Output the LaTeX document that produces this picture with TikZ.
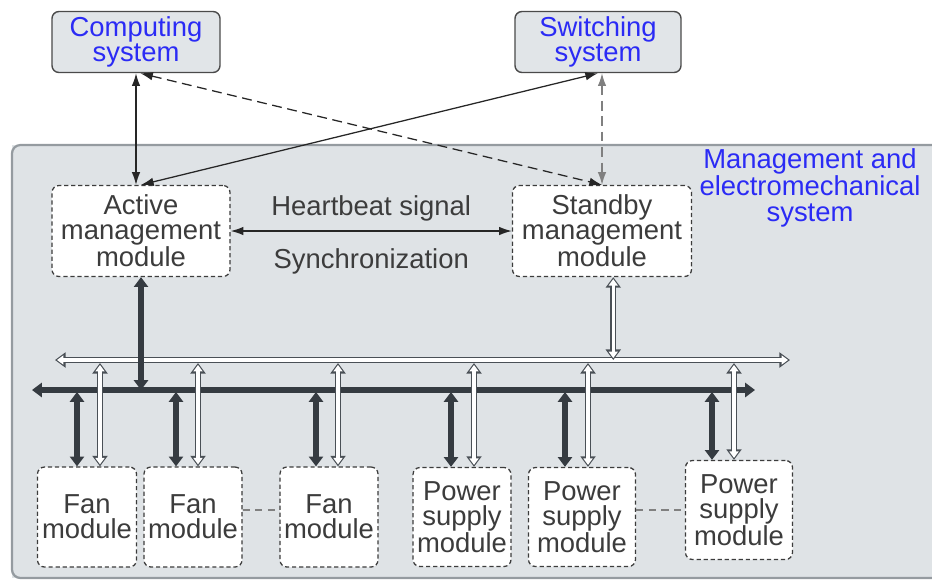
\documentclass[tikz,border=0pt]{standalone}
\usepackage{fontspec}
\setmainfont{Liberation Sans}
\usepackage{tikz}
\usetikzlibrary{arrows.meta}
\definecolor{panelfill}{HTML}{DFE3E6}
\definecolor{paneledge}{HTML}{959BA0}
\definecolor{boxfill}{HTML}{E1E5E8}
\definecolor{boxedge}{HTML}{4A4A4A}
\definecolor{sysblue}{HTML}{2B2BF5}
\definecolor{textgray}{HTML}{3C3C3C}
\definecolor{busdark}{HTML}{353B41}
\definecolor{busedge}{HTML}{4A5056}

\begin{document}
\begin{tikzpicture}[x=0.025cm, y=-0.025cm,
    every node/.style={font=\fontsize{19.5pt}{18pt}\selectfont},
    sysbox/.style={draw=boxedge, fill=boxfill, line width=1pt, rounded corners=5pt, text=sysblue, align=center, inner sep=0pt, minimum height=1.525cm},
    modbox/.style={draw=textgray, fill=white, line width=0.9pt, dash pattern=on 3pt off 2pt, rounded corners=5pt, text=textgray, align=center, inner sep=0pt},
    thinarrow/.style={{Latex[length=9pt,width=6pt]}-{Latex[length=9pt,width=6pt]}, line width=0.9pt, draw=black!85},
    darkarrow/.style={{Triangle[length=7pt,width=10pt]}-{Triangle[length=7pt,width=10pt]}, line width=4.2pt, draw=busdark},
    hollowarrow/.style={{Triangle[length=7.5pt,width=10.5pt]}-{Triangle[length=7.5pt,width=10.5pt]}, line width=4.6pt, draw=busedge,
        postaction={draw=white, line width=2.2pt, {Triangle[length=4.6pt,width=6.4pt]}-{Triangle[length=4.6pt,width=6.4pt]}, shorten <=1.4pt, shorten >=1.4pt}},
    linkdash/.style={draw=gray, line width=0.9pt, dash pattern=on 5pt off 4pt}
]
    \useasboundingbox (0,0) rectangle (932,581);

    % Pannello del sistema
    \path[fill=panelfill] (932,145) -- (12,145) -- (12,578) -- (932,578) -- cycle;
    \draw[draw=paneledge, line width=1.6pt, rounded corners=6pt] (932,145) -- (12,145) -- (12,578) -- (932,578);
    \node[align=center, text=sysblue] (mgmt) at (810,188) {Management and\\electromechanical\\system};

    % Sistemi esterni
    \node[sysbox, minimum width=4.2cm] (comp) at (136,42) {Computing\\system};
    \node[sysbox, minimum width=4.15cm] (swit) at (598,42) {Switching\\system};

    % Moduli di gestione
    \node[modbox, minimum width=4.45cm, minimum height=2.275cm] (act) at (141,231) {Active\\management\\module};
    \node[modbox, minimum width=4.475cm, minimum height=2.275cm] (stby) at (602,231) {Standby\\management\\module};

    % Moduli ventole e alimentatori
    \node[modbox, minimum width=2.475cm, minimum height=2.5cm] (fan1) at (87,517) {Fan\\module};
    \node[modbox, minimum width=2.45cm, minimum height=2.5cm] (fan2) at (193,517) {Fan\\module};
    \node[modbox, minimum width=2.45cm, minimum height=2.5cm] (fan3) at (329,517) {Fan\\module};
    \node[modbox, minimum width=2.45cm, minimum height=2.475cm] (pw1) at (462,517) {Power\\supply\\module};
    \node[modbox, minimum width=2.675cm, minimum height=2.475cm] (pw2) at (582,517) {Power\\supply\\module};
    \node[modbox, minimum width=2.675cm, minimum height=2.475cm] (pw3) at (739,510) {Power\\supply\\module};

    % Collegamenti esterni
    \draw[thinarrow] (comp.south) -- (comp.south |- act.north);
    \draw[thinarrow, dash pattern=on 7pt off 4pt] ([xshift=3pt]comp.south) -- (stby.north);
    \draw[thinarrow] (act.north) -- (swit.south);
    \draw[thinarrow, draw=gray, dash pattern=on 7pt off 4pt] (stby.north |- swit.south) -- (stby.north);

    % Heartbeat
    \draw[thinarrow] (act.east) -- (stby.west)
        node[midway, above=3pt, text=textgray] (hb) {Heartbeat signal}
        node[midway, below=9pt, text=textgray] (sync) {Synchronization};

    % Bus
    \coordinate (wbusL) at (55,360);
    \coordinate (wbusR) at (790,360);
    \coordinate (dbusL) at (32,390);
    \coordinate (dbusR) at (755,390);
    \coordinate (wtap) at (0,363);
    \coordinate (dtap) at (0,392);
    \draw[hollowarrow] (wbusL) -- (wbusR);
    \draw[darkarrow] (dbusL) -- (dbusR);
    \draw[darkarrow] (act.south) -- (act.south |- dbusL);
    \draw[hollowarrow] ([xshift=8pt]stby.south) -- ([xshift=8pt]stby.south |- wbusL);

    \foreach \m/\dx/\wx in {fan1/77/100, fan2/176/198, fan3/316/338, pw1/451/474, pw2/565/588, pw3/712/734}{
        \draw[hollowarrow] (\wx,0 |- wtap) -- (\wx,0 |- \m.north);
        \draw[darkarrow] (\dx,0 |- dtap) -- (\dx,0 |- \m.north);
    }

    % Linee tratteggiate tra moduli
    \draw[linkdash] ([yshift=5pt]fan2.east) -- ([yshift=5pt]fan3.west);
    \draw[linkdash] (pw3.west -| pw2.east) -- (pw3.west);
\end{tikzpicture}
\end{document}
